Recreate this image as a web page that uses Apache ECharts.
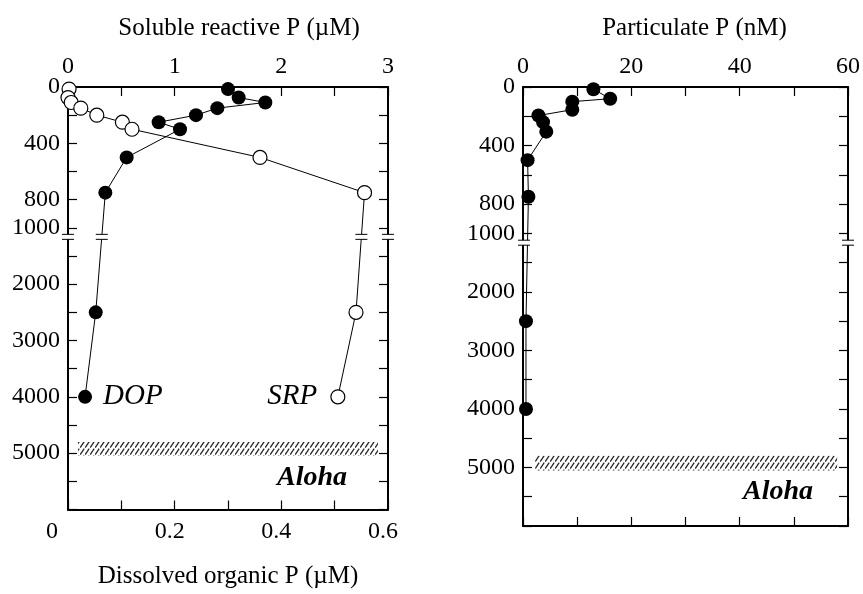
<!DOCTYPE html>
<html><head><meta charset="utf-8">
<script src="https://cdn.jsdelivr.net/npm/echarts@6/dist/echarts.min.js"></script>
<style>html,body{margin:0;padding:0;background:#fff}#c{width:863px;height:594px}</style>
</head><body><div id="c"></div>
<script>
// ---------- data ----------
const depthsLeft = [15, 75, 110, 150, 200, 250, 300, 500, 750, 2500, 4000];
const srpValues  = [0.01, 0.00, 0.03, 0.12, 0.27, 0.51, 0.60, 1.80, 2.78, 2.70, 2.53];
const dopValues  = [0.30, 0.32, 0.37, 0.28, 0.24, 0.17, 0.21, 0.11, 0.07, 0.052, 0.032];
const depthsRight = [15, 80, 100, 155, 195, 240, 305, 500, 750, 2500, 4000];
const ppValues    = [13.0, 16.1, 9.1, 9.1, 2.85, 3.7, 4.3, 0.85, 1.0, 0.55, 0.55];

const depthLabels = [0, 400, 800, 1000, 2000, 3000, 4000, 5000];
const depthTicks  = [0, 200, 400, 600, 800, 1000, 1500, 2000, 2500, 3000, 3500, 4000, 4500, 5000, 5500, 6000];
const srpTicks = [0, 0.5, 1, 1.5, 2, 2.5, 3];
const srpLabels = [0, 1, 2, 3];
const dopTicks = [0, 0.1, 0.2, 0.3, 0.4, 0.5, 0.6];
const dopLabels = [0, 0.2, 0.4, 0.6];
const ppTicks = [0, 10, 20, 30, 40, 50, 60];
const ppLabels = [0, 20, 40, 60];
const bandDepth = [4800, 5050];
const breakDepth = 1160;
const depthMax = 6000;

// broken depth scale: full scale above 1000 m, compressed 0.4x below
const BREAK_AT = 1000, LOWER = 0.4;
const toV = d => d <= BREAK_AT ? d : BREAK_AT + (d - BREAK_AT) * LOWER;
const fromV = v => v <= BREAK_AT ? v : BREAK_AT + (v - BREAK_AT) / LOWER;

const FONT = 'Liberation Serif';
const black = '#000';

// hatch pattern
const pc = document.createElement('canvas');
pc.width = 5; pc.height = 7;
const g = pc.getContext('2d');
g.strokeStyle = '#222'; g.lineWidth = 1.2;
g.beginPath(); g.moveTo(0.2, 6.6); g.lineTo(4.2, 0.6); g.stroke();
const hatch = { image: pc, repeat: 'repeat' };

const lineAxis = { show: true, onZero: false, lineStyle: { color: black, width: 2 } };
const tickStyle = vals => ({ show: true, inside: true, length: 9, customValues: vals, lineStyle: { color: black, width: 1.2 } });
const labStyle = (vals, margin, fmt, rich) => ({ show: true, customValues: vals, margin, color: black, fontFamily: FONT, fontSize: 24, formatter: fmt, rich: rich || {} });

const richBottom = {
  z: { fontFamily: FONT, fontSize: 24, color: black, padding: [0, 32, 0, 0] },
  n: { fontFamily: FONT, fontSize: 24, color: black, padding: [0, 10, 0, 0] }
};

function xAxisDef(grid, pos, min, max, ticks, labels, name, nameGap, pad, fmt, rich) {
  return {
    type: 'value', gridIndex: grid, position: pos, min, max,
    axisLine: lineAxis, axisTick: tickStyle(ticks),
    axisLabel: labels ? labStyle(labels, pos === 'top' ? 8 : 10, fmt || (v => String(v)), rich) : { show: false },
    splitLine: { show: false },
    name: name || '', nameLocation: 'middle', nameGap: nameGap || 0,
    nameTextStyle: { color: black, fontFamily: FONT, fontSize: 25, verticalAlign: 'middle', padding: pad || 0 }
  };
}
function yAxisDef(grid, pos, labels) {
  return {
    type: 'value', gridIndex: grid, position: pos, inverse: true, min: 0, max: toV(depthMax),
    axisLine: lineAxis, axisTick: tickStyle(depthTicks.map(toV)),
    axisLabel: labels ? labStyle(depthLabels.map(toV), 8, v => String(Math.round(fromV(v)))) : { show: false },
    splitLine: { show: false }
  };
}

const chart = echarts.init(document.getElementById('c'), null, { renderer: 'canvas' });

const option = {
  backgroundColor: '#fff',
  animation: false,
  grid: [
    { left: 68, top: 87, width: 320, height: 424 },
    { left: 523, top: 87, width: 328, height: 439 }
  ],
  xAxis: [
    xAxisDef(0, 'top', 0, 3, srpTicks, srpLabels, 'Soluble reactive P (\u00b5M)', 59, [0, 0, 0, 22]),
    xAxisDef(0, 'bottom', 0, 0.6, dopTicks, dopLabels, 'Dissolved organic P (\u00b5M)', 67, 0,
      v => v === 0 ? '{z|0}' : '{n|' + v + '}', richBottom),
    xAxisDef(1, 'top', 0, 60, ppTicks, ppLabels, 'Particulate P (nM)', 59, [0, 0, 0, 18]),
    xAxisDef(1, 'bottom', 0, 60, ppTicks, null)
  ],
  yAxis: [
    yAxisDef(0, 'left', true), yAxisDef(0, 'right', false),
    yAxisDef(1, 'left', true), yAxisDef(1, 'right', false)
  ],
  series: [
    {
      name: 'DOP', type: 'line', xAxisIndex: 1, yAxisIndex: 0, clip: false, z: 3,
      data: depthsLeft.map((d, i) => ({
        value: [dopValues[i], toV(d)],
        label: i === depthsLeft.length - 1 ? { show: true, position: 'right', distance: 11, formatter: 'DOP',
          color: black, fontFamily: FONT, fontStyle: 'italic', fontSize: 29 } : { show: false }
      })),
      symbol: 'circle', symbolSize: 14,
      itemStyle: { color: black }, lineStyle: { color: black, width: 1 }
    },
    {
      name: 'SRP', type: 'line', xAxisIndex: 0, yAxisIndex: 0, clip: false, z: 4,
      data: depthsLeft.map((d, i) => ({
        value: [srpValues[i], toV(d)],
        label: i === depthsLeft.length - 1 ? { show: true, position: 'left', distance: 13, formatter: 'SRP',
          color: black, fontFamily: FONT, fontStyle: 'italic', fontSize: 29 } : { show: false }
      })),
      symbol: 'circle', symbolSize: 14,
      itemStyle: { color: '#fff', borderColor: black, borderWidth: 1.2 }, lineStyle: { color: black, width: 1 },
      markArea: {
        silent: true,
        itemStyle: { color: hatch },
        data: [[{ coord: [0.094, toV(bandDepth[0])] }, { coord: [2.906, toV(bandDepth[1])] }]]
      }
    },
    {
      name: 'PP', type: 'line', xAxisIndex: 2, yAxisIndex: 2, clip: false, z: 3,
      data: depthsRight.map((d, i) => [ppValues[i], toV(d)]),
      symbol: 'circle', symbolSize: 14,
      itemStyle: { color: black }, lineStyle: { color: black, width: 1 },
      markArea: {
        silent: true,
        itemStyle: { color: hatch },
        data: [[{ coord: [2.25, toV(bandDepth[0])] }, { coord: [58, toV(bandDepth[1])] }]]
      }
    }
  ]
};
chart.setOption(option);

// break marks
function crossX(depths, vals, xIdx) {
  const bv = toV(breakDepth);
  for (let i = 0; i < depths.length - 1; i++) {
    const a = toV(depths[i]), b = toV(depths[i + 1]);
    if (a <= bv && b >= bv) {
      const t = (bv - a) / (b - a);
      return chart.convertToPixel({ xAxisIndex: xIdx }, vals[i] + t * (vals[i + 1] - vals[i]));
    }
  }
  return null;
}
const graphics = [];
function breakMark(x, y) {
  const hw = 6, gap = 2.5;
  graphics.push({ type: 'rect', z: 100, shape: { x: x - hw - 1, y: y - gap, width: 2 * hw + 2, height: 2 * gap }, style: { fill: '#fff' } });
  graphics.push({ type: 'line', z: 101, shape: { x1: x - hw, y1: y - gap, x2: x + hw, y2: y - gap }, style: { stroke: black, lineWidth: 1 } });
  graphics.push({ type: 'line', z: 101, shape: { x1: x - hw, y1: y + gap, x2: x + hw, y2: y + gap }, style: { stroke: black, lineWidth: 1 } });
}
const yL = chart.convertToPixel({ yAxisIndex: 0 }, toV(breakDepth));
const yR = chart.convertToPixel({ yAxisIndex: 2 }, toV(breakDepth));
breakMark(chart.convertToPixel({ xAxisIndex: 0 }, 0), yL);
breakMark(chart.convertToPixel({ xAxisIndex: 0 }, 3), yL);
breakMark(crossX(depthsLeft, dopValues, 1), yL);
breakMark(crossX(depthsLeft, srpValues, 0), yL);
breakMark(chart.convertToPixel({ xAxisIndex: 2 }, 0) + 1, yR);
breakMark(chart.convertToPixel({ xAxisIndex: 2 }, 60), yR);

graphics.push({ type: 'text', z: 50, style: { text: 'Aloha', x: 347, y: 478, align: 'right', verticalAlign: 'middle',
  font: 'bold italic 28px "Liberation Serif"', fill: black } });
graphics.push({ type: 'text', z: 50, style: { text: 'Aloha', x: 813, y: 492, align: 'right', verticalAlign: 'middle',
  font: 'bold italic 28px "Liberation Serif"', fill: black } });
chart.setOption({ graphic: graphics });
</script>
</body></html>
